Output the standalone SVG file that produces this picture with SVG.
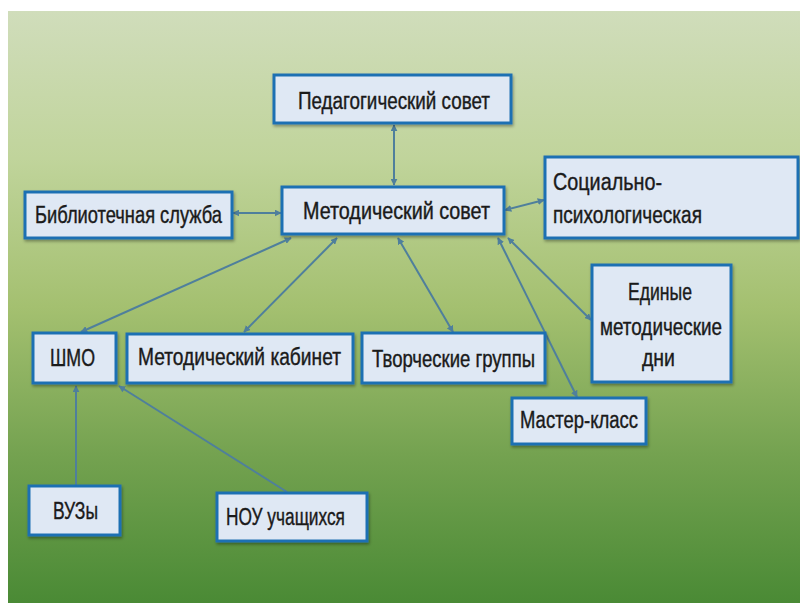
<svg xmlns="http://www.w3.org/2000/svg" width="800" height="603" viewBox="0 0 800 603">
<defs>
<linearGradient id="bg" x1="0" y1="0" x2="0" y2="1">
<stop offset="0" stop-color="#d0ddbb"/>
<stop offset="0.25" stop-color="#c0d49b"/>
<stop offset="0.5" stop-color="#a4c070"/>
<stop offset="0.75" stop-color="#74a250"/>
<stop offset="1" stop-color="#4a8a35"/>
</linearGradient>
<filter id="sh" x="-10%" y="-10%" width="120%" height="130%">
<feDropShadow dx="1" dy="2" stdDeviation="1.5" flood-color="#000" flood-opacity="0.35"/>
</filter>
<marker id="ar" viewBox="0 0 10 10" refX="9" refY="5" markerWidth="3.5" markerHeight="3.5" orient="auto-start-reverse" markerUnits="strokeWidth">
<path d="M0,0 L10,5 L0,10 z" fill="#4f7f9c"/>
</marker>
</defs>
<style>
.box{fill:#dfe8f4;stroke:#1f70b3;stroke-width:3;filter:url(#sh)}
.t{font-family:"Liberation Sans","Open Sans",sans-serif;font-size:23px;fill:#1a1a1a;stroke:#1a1a1a;stroke-width:0.4;text-anchor:start}
.c{stroke:#4f7f9c;stroke-width:2;fill:none}
.both{marker-start:url(#ar);marker-end:url(#ar)}
.one{marker-end:url(#ar)}
</style>
<rect x="8" y="11" width="792" height="592" fill="url(#bg)"/>
<g id="connectors">
<line class="c both" x1="394" y1="125" x2="394" y2="185"/>
<line class="c both" x1="233" y1="213" x2="281" y2="213"/>
<line class="c both" x1="505" y1="210" x2="544" y2="200"/>
<line class="c both" x1="291" y1="238" x2="81" y2="332"/>
<line class="c both" x1="337" y1="238" x2="244" y2="332"/>
<line class="c both" x1="398" y1="238" x2="453" y2="332"/>
<line class="c both" x1="498" y1="238" x2="577" y2="397"/>
<line class="c both" x1="508" y1="238" x2="591" y2="320"/>
<line class="c one" x1="76" y1="486" x2="76" y2="386"/>
<line class="c one" x1="287" y1="492" x2="119" y2="386"/>
</g>
<g id="ped">
<rect class="box" x="274" y="75" width="237" height="48"/>
<text class="t" x="298" y="109" textLength="192" lengthAdjust="spacingAndGlyphs">Педагогический совет</text>
</g>
<g id="met">
<rect class="box" x="282" y="187" width="222" height="47"/>
<text class="t" x="303" y="219" textLength="187" lengthAdjust="spacingAndGlyphs">Методический совет</text>
</g>
<g id="bibl">
<rect class="box" x="25" y="192" width="207" height="46"/>
<text class="t" x="35" y="223" textLength="187" lengthAdjust="spacingAndGlyphs">Библиотечная служба</text>
</g>
<g id="soc">
<rect class="box" x="545" y="157" width="253" height="81"/>
<text class="t" x="553" y="190" textLength="109" lengthAdjust="spacingAndGlyphs">Социально-</text>
<text class="t" x="553" y="223" textLength="149" lengthAdjust="spacingAndGlyphs">психологическая</text>
</g>
<g id="shmo">
<rect class="box" x="33" y="333" width="83" height="50"/>
<text class="t" x="50" y="366" textLength="45" lengthAdjust="spacingAndGlyphs">ШМО</text>
</g>
<g id="metkab">
<rect class="box" x="127" y="334" width="226" height="49"/>
<text class="t" x="138" y="365" textLength="203" lengthAdjust="spacingAndGlyphs">Методический кабинет</text>
</g>
<g id="tvorch">
<rect class="box" x="362" y="333" width="183" height="50"/>
<text class="t" x="372" y="367" textLength="163" lengthAdjust="spacingAndGlyphs">Творческие группы</text>
</g>
<g id="edinye">
<rect class="box" x="592" y="265" width="139" height="117"/>
<text class="t" x="628" y="300" textLength="64" lengthAdjust="spacingAndGlyphs">Единые</text>
<text class="t" x="600" y="335" textLength="122" lengthAdjust="spacingAndGlyphs">методические</text>
<text class="t" x="642" y="366" textLength="33" lengthAdjust="spacingAndGlyphs">дни</text>
</g>
<g id="master">
<rect class="box" x="512" y="398" width="134" height="46"/>
<text class="t" x="520" y="428" textLength="118" lengthAdjust="spacingAndGlyphs">Мастер-класс</text>
</g>
<g id="vuzy">
<rect class="box" x="29" y="486" width="91" height="49"/>
<text class="t" x="53" y="519" textLength="45" lengthAdjust="spacingAndGlyphs">ВУЗы</text>
</g>
<g id="nou">
<rect class="box" x="217" y="493" width="150" height="48"/>
<text class="t" x="226" y="525" textLength="119" lengthAdjust="spacingAndGlyphs">НОУ учащихся</text>
</g>
</svg>
